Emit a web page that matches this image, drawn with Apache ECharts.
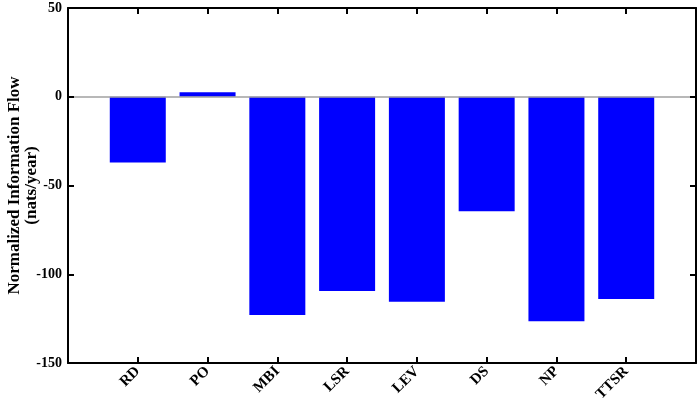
<!DOCTYPE html>
<html><head><meta charset="utf-8">
<script src="https://cdn.jsdelivr.net/npm/echarts@6/dist/echarts.min.js"></script>
<style>html,body{margin:0;padding:0;background:#fff}#c{width:699px;height:406px}</style>
</head><body><div id="c"></div>
<script>
const categories = ['', 'RD', 'PO', 'MBI', 'LSR', 'LEV', 'DS', 'NP', 'TTSR', ''];
const values = [null, -37, 2.5, -123, -109.5, -115.5, -64.5, -126.5, -114, null];
const yTicks = [-150, -100, -50, 0, 50];

const font = 'Liberation Serif';
const chart = echarts.init(document.getElementById('c'));
function tick(extra) {
  return Object.assign({show: true, inside: true, length: 6, alignWithLabel: true,
    lineStyle: {color: '#000', width: 2, opacity: 1}}, extra || {});
}
chart.setOption({
  animation: false,
  grid: {left: 68, right: 3, top: 8, bottom: 43, outerBounds: {left: -50, top: -50, right: -50, bottom: -50}},
  xAxis: [{
    type: 'category', data: categories, boundaryGap: false, position: 'bottom', z: 10,
    axisLine: {onZero: false, lineStyle: {color: '#000', width: 2}},
    axisTick: tick({interval: 0}),
    axisLabel: {rotate: 45, interval: 0, fontFamily: font, fontWeight: 'bold', fontSize: 15, color: '#000', margin: 6},
    splitLine: {show: false}
  }, {
    type: 'category', data: categories, boundaryGap: false, position: 'top', z: 10,
    axisLine: {onZero: false, lineStyle: {color: '#000', width: 2}},
    axisTick: tick({interval: 0}),
    axisLabel: {show: false}
  }],
  yAxis: [{
    type: 'value', min: yTicks[0], max: yTicks[yTicks.length - 1], interval: 50, z: 10,
    name: 'Normalized Information Flow\n(nats/year)', nameLocation: 'middle', nameGap: 28,
    nameMoveOverlap: false,
    nameTextStyle: {fontFamily: font, fontWeight: 'bold', fontSize: 17, color: '#000', lineHeight: 17},
    axisLine: {show: true, onZero: false, lineStyle: {color: '#000', width: 2}},
    axisTick: tick(),
    axisLabel: {fontFamily: font, fontWeight: 'bold', fontSize: 14, color: '#000', margin: 6},
    splitLine: {show: false}
  }, {
    type: 'value', min: yTicks[0], max: yTicks[yTicks.length - 1], interval: 50, position: 'right', z: 10,
    axisLine: {show: true, onZero: false, lineStyle: {color: '#000', width: 2}},
    axisTick: tick(),
    axisLabel: {show: false}, splitLine: {show: false}
  }],
  series: [{
    type: 'bar', data: values, barWidth: 56, itemStyle: {color: '#0000ff'},
    markLine: {silent: true, symbol: 'none', label: {show: false},
      lineStyle: {color: '#a0a0a0', type: 'solid', width: 1.5},
      data: [{yAxis: 0}]}
  }]
});
</script></body></html>
